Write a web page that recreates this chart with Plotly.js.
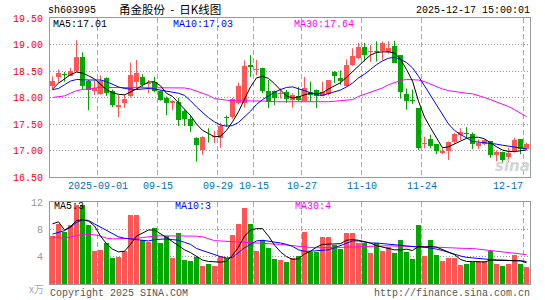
<!DOCTYPE html>
<html><head><meta charset="utf-8">
<script src="https://cdn.plot.ly/plotly-3.0.1.min.js"></script>
<style>html,body{margin:0;padding:0;background:#fff}</style>
</head><body><div id="chart" style="width:545px;height:300px"></div>
<script>
// ---- data ----
const tickIndex = [8, 18, 28, 34, 42, 52, 62, 79];
const tickLabels = ['2025-09-01', '09-15', '09-29', '10-15', '10-27', '11-10', '11-24', '12-17'];
const priceTicks = [16.5, 17, 17.5, 18, 18.5, 19, 19.5];
const volTicks = [4, 8, 12];

const open = [18.22,18.39,18.45,18.41,18.50,18.76,18.32,18.13,18.07,18.37,
18.13,17.83,17.90,18.03,18.30,18.38,18.25,18.30,18.12,17.99,
17.89,17.92,17.75,17.60,17.24,17.01,17.28,17.26,17.24,17.64,
17.63,17.89,17.90,18.61,18.52,18.55,18.12,18.12,18.07,18.10,
17.95,18.03,17.94,18.11,18.14,18.03,18.07,18.49,18.36,18.21,
18.62,18.74,18.95,18.85,18.88,18.87,18.86,18.97,18.80,18.07,
17.95,17.80,17.12,17.21,17.12,16.96,17.00,17.16,17.29,17.33,
17.31,17.08,17.12,17.18,16.92,16.98,16.88,16.99,17.21,17.02];
const high = [18.40,18.53,18.48,18.56,19.08,18.85,18.33,18.32,18.42,18.38,
18.15,18.05,18.06,18.66,18.71,18.44,18.33,18.39,18.13,18.02,
17.95,17.99,17.77,17.67,17.25,17.27,17.42,17.37,17.52,17.66,
17.99,18.28,18.70,18.80,18.71,18.56,18.33,18.13,18.17,18.14,
18.08,18.20,18.39,18.30,18.15,18.30,18.33,18.50,18.51,18.72,
18.93,19.03,19.03,18.99,19.06,19.06,19.06,19.07,18.80,18.17,
18.15,17.80,17.26,17.30,17.12,17.04,17.17,17.33,17.42,17.44,
17.34,17.21,17.21,17.18,17.00,16.98,17.05,17.24,17.21,17.15];
const low = [18.15,18.28,18.30,18.40,18.48,18.15,17.76,18.05,18.05,18.03,
17.82,17.63,17.80,18.00,18.15,18.19,18.08,18.10,17.94,17.67,
17.76,17.46,17.46,17.35,16.79,16.92,17.15,17.14,17.05,17.45,
17.60,17.87,17.81,18.39,18.42,18.08,17.80,17.86,17.98,17.90,
17.81,17.93,17.93,17.92,17.80,18.02,18.04,18.27,18.24,18.20,
18.60,18.72,18.68,18.67,18.68,18.71,18.83,18.65,17.98,17.77,
17.88,17.01,17.04,17.04,16.93,16.93,16.82,17.13,17.20,17.24,
17.03,17.03,17.10,16.86,16.80,16.77,16.78,16.96,16.93,17.01];
const close = [18.31,18.46,18.43,18.50,18.77,18.21,18.15,18.18,18.32,18.09,
17.86,17.86,17.98,18.42,18.46,18.24,18.28,18.12,17.96,17.90,
17.93,17.58,17.60,17.46,17.10,17.26,17.27,17.28,17.47,17.61,
17.97,18.22,18.59,18.57,18.54,18.13,17.92,17.99,18.09,17.98,
18.05,17.96,18.17,18.05,18.03,18.11,18.33,18.41,18.32,18.62,
18.78,18.95,18.81,18.87,18.86,19.03,18.93,18.65,18.11,17.94,
17.93,17.04,17.14,17.09,17.00,17.00,17.16,17.31,17.34,17.32,
17.12,17.14,17.20,16.91,16.97,16.82,16.96,17.20,17.03,17.12];

const ma5 = [18.16,18.27,18.35,18.43,18.48,18.46,18.41,18.35,18.25,18.15,
18.09,18.06,18.05,18.10,18.16,18.23,18.29,18.30,18.22,18.08,
18.02,17.90,17.78,17.66,17.50,17.38,17.32,17.26,17.27,17.38,
17.54,17.73,17.97,18.20,18.37,18.40,18.36,18.26,18.14,18.03,
17.99,18.01,18.05,18.08,18.07,18.09,18.16,18.22,18.28,18.38,
18.49,18.60,18.70,18.80,18.85,18.86,18.86,18.84,18.72,18.53,
18.31,17.93,17.63,17.43,17.24,17.05,17.07,17.12,17.17,17.23,
17.25,17.25,17.22,17.14,17.07,17.01,16.98,16.98,17.00,17.01];
const ma10 = [18.15,18.17,18.24,18.31,18.34,18.33,18.33,18.33,18.33,18.30,
18.25,18.20,18.17,18.16,18.15,18.16,18.17,18.16,18.14,18.12,
18.11,18.08,18.04,17.94,17.82,17.72,17.62,17.54,17.48,17.46,
17.47,17.53,17.63,17.74,17.87,17.96,18.03,18.10,18.15,18.19,
18.20,18.17,18.13,18.09,18.05,18.04,18.07,18.11,18.14,18.20,
18.27,18.37,18.44,18.53,18.62,18.69,18.74,18.76,18.72,18.66,
18.56,18.40,18.22,18.03,17.85,17.66,17.50,17.38,17.30,17.24,
17.17,17.16,17.15,17.14,17.12,17.10,17.08,17.07,17.05,17.03];
const ma30 = [18.00,18.01,18.03,18.08,18.13,18.15,18.17,18.18,18.19,18.19,
18.19,18.19,18.18,18.18,18.18,18.18,18.19,18.19,18.19,18.19,
18.19,18.19,18.18,18.16,18.12,18.09,18.04,17.98,17.96,17.95,
17.94,17.94,17.94,17.94,17.94,17.93,17.93,17.92,17.92,17.91,
17.91,17.91,17.91,17.91,17.91,17.91,17.92,17.93,17.94,17.94,
17.96,18.02,18.06,18.10,18.13,18.18,18.24,18.28,18.32,18.34,
18.34,18.33,18.30,18.25,18.21,18.16,18.13,18.11,18.10,18.08,
18.07,18.04,18.00,17.96,17.92,17.88,17.83,17.77,17.71,17.64];

const vol = [7.0,8.8,7.6,8.6,11.6,11.6,8.6,4.9,5.0,6.0,
3.85,4.0,4.9,10.1,10.1,6.5,6.1,8.25,6.0,7.0,
3.85,7.4,3.55,3.3,4.0,2.7,3.0,2.7,4.15,3.8,
7.1,8.75,11.1,8.8,4.9,6.4,5.2,3.6,3.5,3.15,
3.8,4.15,7.6,4.75,4.75,6.85,6.85,5.7,5.1,7.45,
7.45,6.0,6.0,4.5,6.0,4.9,5.4,4.5,6.5,4.65,
3.6,8.6,4.15,6.5,4.3,3.3,3.75,3.75,2.8,3.0,
3.15,3.4,3.4,4.8,3.0,2.65,3.0,4.3,3.0,2.55];
const vma5 = [8.8,9.1,7.9,8.4,9.3,9.4,9.2,8.5,7.0,5.9,
5.1,4.7,4.8,5.8,7.0,7.4,7.9,7.9,7.4,6.8,
6.2,5.6,5.0,4.6,4.0,3.5,3.3,3.2,3.2,3.3,
4.2,5.4,7.0,7.9,8.1,8.1,7.0,5.7,4.7,4.0,
3.6,3.7,4.4,4.8,5.4,5.8,5.8,5.8,5.9,6.4,
6.5,6.4,6.2,6.0,5.6,5.4,5.2,5.0,5.0,5.1,
4.9,5.5,5.4,5.5,5.4,5.0,4.6,4.3,3.6,3.3,
3.3,3.2,3.2,3.5,3.5,3.4,3.4,3.5,3.4,3.1];
const vma10 = [7.3,7.5,7.8,8.3,9.0,9.4,9.3,8.8,8.3,7.8,
7.3,6.9,6.7,6.6,6.6,6.5,6.3,6.5,6.6,6.6,
6.5,6.4,6.1,5.8,5.2,4.9,4.6,4.2,4.0,3.8,
3.9,4.6,5.3,5.8,6.3,6.4,6.3,6.1,6.0,5.8,
5.5,5.0,4.8,4.8,4.9,4.9,5.0,5.3,5.6,6.0,
6.3,6.3,6.1,6.0,6.0,5.9,5.9,5.7,5.6,5.5,
5.5,5.4,5.4,5.3,5.1,4.9,4.6,4.3,4.1,3.9,
3.8,3.7,3.6,3.6,3.5,3.5,3.4,3.4,3.4,3.3];
const vma30 = [6.9,6.8,6.7,6.9,7.1,7.25,7.25,7.2,7.0,6.7,
6.6,6.6,6.6,6.65,6.7,6.8,6.95,7.0,7.05,7.05,
7.1,7.1,7.1,7.05,7.0,6.9,6.6,6.35,6.3,6.25,
6.2,6.2,6.15,6.1,6.1,6.05,5.95,5.85,5.8,5.7,
5.6,5.45,5.4,5.35,5.3,5.3,5.3,5.3,5.3,5.35,
5.4,5.45,5.5,5.55,5.55,5.6,5.6,5.55,5.5,5.5,
5.5,5.5,5.45,5.4,5.35,5.3,5.3,5.25,5.25,5.2,
5.2,5.1,5.0,4.95,4.9,4.75,4.65,4.5,4.4,4.3];

// ---- styles ----
const RED = '#ff5555', GREEN = '#00a800';
const MONO = 'Liberation Mono, DejaVu Sans Mono, monospace';
const L = 50, R = 530, TOP = 18, BOT = 284;          // plot box in pixels
const W = R - L, H = BOT - TOP;
const px = v => (v - L) / W, py = v => (BOT - v) / H;

const N = close.length;
const xs = Array.from({length: N}, (_, i) => i);
const isUp = xs.map(i => close[i] >= open[i]);
const colors = isUp.map(u => u ? RED : GREEN);

function wicks(up) {
  const x = [], y = [];
  xs.forEach(i => { if (isUp[i] === up) { x.push(i, i, null); y.push(low[i], high[i], null); } });
  return {x, y};
}
const wUp = wicks(true), wDn = wicks(false);
const bw = 5 / 6;

const traces = [
  {type: 'bar', x: xs, base: xs.map(i => Math.min(open[i], close[i])),
   y: xs.map(i => Math.abs(close[i] - open[i])), width: bw,
   marker: {color: colors, line: {width: 0}}, xaxis: 'x', yaxis: 'y', hoverinfo: 'skip'},
  {type: 'scatter', mode: 'lines', x: wUp.x, y: wUp.y, line: {color: RED, width: 1},
   xaxis: 'x', yaxis: 'y', hoverinfo: 'skip', connectgaps: false},
  {type: 'scatter', mode: 'lines', x: wDn.x, y: wDn.y, line: {color: GREEN, width: 1},
   xaxis: 'x', yaxis: 'y', hoverinfo: 'skip', connectgaps: false},
  {type: 'scatter', mode: 'lines', x: xs, y: ma30, line: {color: '#ff00ff', width: 1}, xaxis: 'x', yaxis: 'y'},
  {type: 'scatter', mode: 'lines', x: xs, y: ma10, line: {color: '#0000ff', width: 1}, xaxis: 'x', yaxis: 'y'},
  {type: 'scatter', mode: 'lines', x: xs, y: ma5, line: {color: '#000000', width: 1}, xaxis: 'x', yaxis: 'y'},
  {type: 'bar', x: xs, y: vol, width: bw, marker: {color: colors, line: {width: 0}},
   xaxis: 'x2', yaxis: 'y2', hoverinfo: 'skip'},
  {type: 'scatter', mode: 'lines', x: xs, y: vma30, line: {color: '#ff00ff', width: 1}, xaxis: 'x2', yaxis: 'y2'},
  {type: 'scatter', mode: 'lines', x: xs, y: vma10, line: {color: '#0000ff', width: 1}, xaxis: 'x2', yaxis: 'y2'},
  {type: 'scatter', mode: 'lines', x: xs, y: vma5, line: {color: '#000000', width: 1}, xaxis: 'x2', yaxis: 'y2'}
];

const x0 = -2.5 / 6;
const xRange = [x0, x0 + N];
const gridX = tickIndex.map(i => i - 0.5);
const xCommon = {range: xRange, showgrid: true, tickvals: gridX, showticklabels: false, ticks: '',
  gridcolor: '#aaaaaa', griddash: '5px,3px', gridwidth: 1, zeroline: false,
  showline: true, mirror: true, linecolor: '#999999', linewidth: 1, fixedrange: true};

const ann = [];
function A(text, x, y, color, anchor, size, family, extra) {
  ann.push(Object.assign({text, x, y, xref: 'paper', yref: 'paper', xanchor: anchor, yanchor: 'middle',
    showarrow: false, borderpad: 0, font: {family: family || MONO, size: size || 10, color}}, extra || {}));
}
A('sh603995', px(47), py(11), '#000', 'left');
A('甬金股份\u00a0\u00a0-\u00a0\u00a0日K线图', px(118), py(9), '#000', 'left', 11.5, 'Noto Sans CJK SC');
A('2025-12-17 15:00:01', px(531), py(11), '#000', 'right');
A('MA5:' + ma5[N - 1].toFixed(2), px(52), py(25), '#000', 'left');
A('MA10:' + ma10[N - 1].toFixed(2), px(172), py(25), '#0000ff', 'left');
A('MA30:' + ma30[N - 1].toFixed(2), px(293), py(25), '#ff00ff', 'left');
A('MA5:' + Math.round(vma5[N - 1]), px(53), py(206), '#000', 'left');
A('MA10:' + Math.round(vma10[N - 1]), px(174), py(206), '#0000ff', 'left');
A('MA30:' + Math.floor(vma30[N - 1]), px(294), py(206), '#ff00ff', 'left');
A('Copyright 2025 SINA.COM', px(49), py(293), '#555', 'left');
A('http://finance.sina.com.cn', px(531), py(293), '#555', 'right');
A('x万', px(45), py(288), '#aaa', 'right', 10, 'Noto Sans CJK SC');
A('sina', px(512), py(166), '#d4d4d4', 'center', 15, 'DejaVu Sans', {font: {family: 'DejaVu Sans', size: 15, color: '#d4d4d4', weight: 'bold', style: 'italic'}});
tickIndex.forEach((idx, k) => {
  ann.push({text: tickLabels[k], x: idx - 0.5, y: py(186), xref: 'x', yref: 'paper',
    xanchor: k === tickIndex.length - 1 ? 'right' : 'center', yanchor: 'middle', showarrow: false,
    borderpad: 0, font: {family: MONO, size: 10, color: '#0070c0'}});
});

const layout = {
  width: 545, height: 300,
  margin: {l: L, r: 545 - R, t: TOP, b: 300 - BOT, pad: 0},
  paper_bgcolor: '#fff', plot_bgcolor: '#fff', showlegend: false, bargap: 0,
  xaxis: Object.assign({}, xCommon, {anchor: 'y', domain: [0, 1]}),
  xaxis2: Object.assign({}, xCommon, {anchor: 'y2', domain: [0, 1]}),
  yaxis: {domain: [(BOT - 177) / H, 1], range: [16.5, 19.5], tickvals: priceTicks,
    ticktext: priceTicks.map(v => v.toFixed(2)), tickfont: {family: MONO, size: 10, color: '#ff0000'},
    ticks: '', ticklabelstandoff: 4, showgrid: true, gridcolor: '#999999', griddash: '1px,2px', gridwidth: 1,
    zeroline: false, showline: true, mirror: true, linecolor: '#999999', linewidth: 1, fixedrange: true},
  yaxis2: {domain: [0, (BOT - 202) / H], range: [0, 12], tickvals: volTicks,
    ticktext: volTicks.map(String), tickfont: {family: MONO, size: 10, color: '#999999'},
    ticks: '', ticklabelstandoff: 4, showgrid: true, gridcolor: '#999999', griddash: '1px,2px', gridwidth: 1,
    zeroline: false, showline: true, mirror: true, linecolor: '#999999', linewidth: 1, fixedrange: true},
  annotations: ann
};

Plotly.newPlot('chart', traces, layout, {displayModeBar: false, staticPlot: true});
</script></body></html>
